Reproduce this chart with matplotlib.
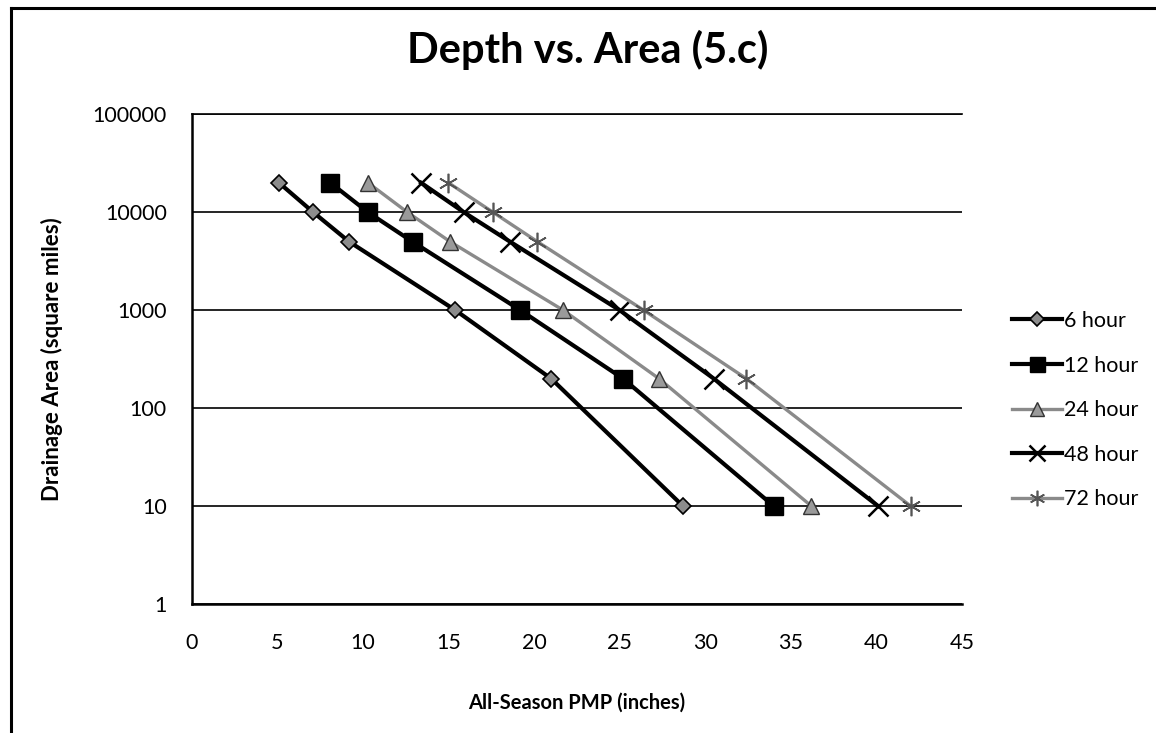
import matplotlib
matplotlib.use("Agg")
import matplotlib.pyplot as plt
from matplotlib.lines import Line2D
from matplotlib.ticker import FixedLocator, NullLocator

# ---- data ----
areas = [20000, 10000, 5000, 1000, 200, 10]
pmp_6h = [5.1, 7.1, 9.2, 15.4, 21.0, 28.7]
pmp_12h = [8.1, 10.3, 12.9, 19.2, 25.2, 34.0]
pmp_24h = [10.3, 12.6, 15.1, 21.7, 27.3, 36.2]
pmp_48h = [13.4, 15.9, 18.6, 25.0, 30.5, 40.1]
pmp_72h = [15.0, 17.6, 20.2, 26.4, 32.4, 42.0]
series_labels = ["6 hour", "12 hour", "24 hour", "48 hour", "72 hour"]
x_ticks = [0, 5, 10, 15, 20, 25, 30, 35, 40, 45]
y_ticks = [1, 10, 100, 1000, 10000, 100000]
y_ticklabels = ["1", "10", "100", "1000", "10000", "100000"]
title = "Depth vs. Area (5.c)"
xlabel = "All-Season PMP (inches)"
ylabel = "Drainage Area (square miles)"

plt.rcParams['font.family'] = ['Lato', 'DejaVu Sans']

W, H = 1156, 733
fig = plt.figure(figsize=(W / 100, H / 100), dpi=100)
fig.patch.set_facecolor('white')

left, right, top, bottom = 191.7, 962, 114.3, 604
ax = fig.add_axes([left / W, 1 - bottom / H, (right - left) / W, (bottom - top) / H])

ax.set_yscale('log')
ax.set_xlim(0, 45)
ax.set_ylim(1, 100000)

styles = [
    dict(color='black', lw=3.0, marker='D', ms=8.5, mfc='#8c8c8c', mec='black', mew=1.2),
    dict(color='black', lw=3.0, marker='s', ms=13.5, mfc='black', mec='black', mew=1),
    dict(color='#8a8a8a', lw=2.4, marker='^', ms=12, mfc='#9a9a9a', mec='#333333', mew=1.0),
    dict(color='black', lw=3.0, marker='x', ms=14, mec='black', mew=1.8),
    dict(color='#8a8a8a', lw=2.4, marker=(6, 2, 0), ms=14, mec='#555555', mew=1.2),
]
data = [pmp_6h, pmp_12h, pmp_24h, pmp_48h, pmp_72h]
for xs, lab, st in zip(data, series_labels, styles):
    ax.plot(xs, areas, label=lab, zorder=3, **st)

# grid
ax.yaxis.grid(True, which='major', color='black', lw=1.2, zorder=1)
ax.xaxis.grid(False)
ax.yaxis.set_major_locator(FixedLocator(y_ticks))
ax.yaxis.set_minor_locator(NullLocator())
ax.set_yticklabels(y_ticklabels)
ax.set_xticks(x_ticks)
ax.set_xticklabels([str(t) for t in x_ticks])

for s in ['top', 'right']:
    ax.spines[s].set_visible(False)
ax.spines['left'].set_linewidth(1.8)
ax.spines['bottom'].set_linewidth(1.8)
ax.axhline(100000, color='black', lw=1.2, zorder=1, clip_on=False)

ax.tick_params(axis='both', length=0, labelsize=15.5)
ax.tick_params(axis='y', pad=18)
ax.tick_params(axis='x', pad=21)

ax.set_xlabel(xlabel, fontsize=14.5, fontweight='bold')
ax.set_ylabel(ylabel, fontsize=16, fontweight='bold')
ax.xaxis.set_label_coords(0.5, (bottom - 693) / (bottom - top))
ax.yaxis.set_label_coords((63 - left) / (right - left), 0.5)

fig.text(588 / W, 1 - 50 / H, title, ha='center', va='center', fontsize=30, fontweight='bold')

leg = ax.legend(loc='upper left', bbox_to_anchor=(1012 / W, 1 - 311 / H),
                bbox_transform=fig.transFigure, frameon=False, fontsize=15.5,
                handlelength=2.3, handletextpad=0.1, labelspacing=1.14,
                borderaxespad=0, borderpad=0, markerscale=0.8)

# outer frame (left and top)
fig.add_artist(Line2D([11 / W, 11 / W], [0, 1 - 8 / H], color='black', lw=2.2, transform=fig.transFigure))
fig.add_artist(Line2D([11 / W, 1], [1 - 8 / H, 1 - 8 / H], color='black', lw=2.2, transform=fig.transFigure))

fig.savefig('out.png', dpi=100)
